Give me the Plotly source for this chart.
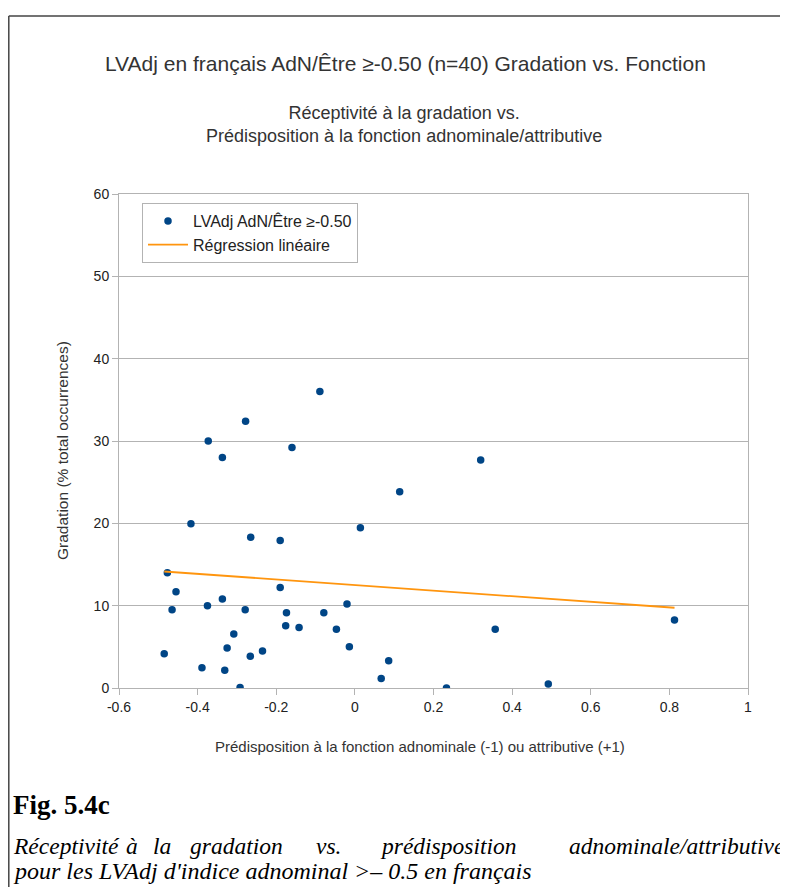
import plotly.graph_objects as go

# ---- data ----
fonction = [-0.089, -0.278, -0.373, -0.337, -0.160, 0.114, -0.417, 0.014, -0.265, -0.190,
            -0.477, -0.455, -0.190, -0.337, -0.375, -0.465, -0.279, -0.174, -0.079, -0.020,
            -0.176, -0.142, -0.047, -0.308, -0.325, -0.014, -0.235, -0.266, -0.485, 0.086,
            -0.389, -0.331, 0.067, -0.292, 0.233, 0.320, 0.357, 0.492, 0.813]
gradation = [36.0, 32.4, 30.0, 28.0, 29.2, 23.85, 19.95, 19.45, 18.3, 17.9,
             14.0, 11.7, 12.2, 10.8, 10.0, 9.5, 9.5, 9.15, 9.15, 10.2,
             7.55, 7.35, 7.15, 6.55, 4.85, 5.0, 4.5, 3.85, 4.15, 3.3,
             2.45, 2.15, 1.15, 0.05, 0.0, 27.7, 7.15, 0.5, 8.25]
reg_x = [-0.485, 0.813]
reg_y = [14.15, 9.75]

x_ticks = [-0.6, -0.4, -0.2, 0, 0.2, 0.4, 0.6, 0.8, 1]
x_tick_labels = ["-0.6", "-0.4", "-0.2", "0", "0.2", "0.4", "0.6", "0.8", "1"]
y_ticks = [0, 10, 20, 30, 40, 50, 60]

title = "LVAdj en français AdN/Être ≥-0.50 (n=40) Gradation vs. Fonction"
subtitle = "Réceptivité à la gradation vs.<br>Prédisposition à la fonction adnominale/attributive"
x_title = "Prédisposition à la fonction adnominale (-1) ou attributive (+1)"
y_title = "Gradation (% total occurrences)"
series_name = "LVAdj AdN/Être ≥-0.50"
reg_name = "Régression linéaire"
fig_label = "Fig. 5.4c"
caption_line1_words = ["Réceptivité", "à", "la", "gradation", "vs.", "prédisposition",
                       "adnominale/attributive"]
caption_line1_x = [12, 125, 152, 189, 315, 379, 568]
caption_line2 = "pour les LVAdj d'indice adnominal >– 0.5 en français"

# ---- layout geometry (page pixels; the page body adds an 8px offset) ----
OFF = 8
W, H = 788, 887
L, R, T, B = 119, 748, 194, 688
PW, PH = R - L, B - T


def px(x):
    return (x - L) / PW


def py(y):
    return (B - y) / PH


SANS = "Liberation Sans, Arial, sans-serif"
SERIF = "Liberation Serif, Times New Roman, serif"
GRID = "#b3b3b3"

fig = go.Figure()
fig.add_trace(go.Scatter(
    x=fonction, y=gradation, mode="markers", name=series_name,
    marker=dict(color="#004586", size=7.5, symbol="circle"),
    legendgroup="a",
))
fig.add_trace(go.Scatter(
    x=reg_x, y=reg_y, mode="lines", name=reg_name,
    line=dict(color="#ff950e", width=1.8),
    legendgroup="b",
))

CAP = 23.5
annotations = [
    dict(text=title, x=px(405), y=py(63), font=dict(size=21, color="#333333", family=SANS)),
    dict(text=subtitle, x=px(404), y=py(125), font=dict(size=18, color="#333333", family=SANS)),
    dict(text=x_title, x=px(420), y=py(746), font=dict(size=15, color="#333333", family=SANS)),
    dict(text=y_title, x=px(62), y=py(451), textangle=-90,
         font=dict(size=15.5, color="#333333", family=SANS)),
    dict(text="<b>" + fig_label + "</b>", x=px(12), y=py(805), xanchor="left",
         font=dict(size=27, color="#000000", family=SERIF)),
    dict(text="<i>" + caption_line2 + "</i>", x=px(12), y=py(871), xanchor="left",
         font=dict(size=CAP + 0.5, color="#000000", family=SERIF)),
]
for word, wx in zip(caption_line1_words, caption_line1_x):
    annotations.append(dict(text="<i>" + word + "</i>", x=px(wx), y=py(846), xanchor="left",
                            font=dict(size=CAP, color="#000000", family=SERIF)))
for a in annotations:
    a.update(xref="paper", yref="paper", showarrow=False, borderpad=0)
    a.setdefault("xanchor", "center")
    a.setdefault("yanchor", "middle")

shapes = [
    dict(type="line", xref="paper", yref="paper", x0=px(8.8), x1=px(800), y0=py(16), y1=py(16),
         line=dict(color="#444444", width=1.5)),
    dict(type="line", xref="paper", yref="paper", x0=px(8.8), x1=px(8.8), y0=py(16), y1=py(900),
         line=dict(color="#444444", width=1.5)),
]

fig.update_layout(
    width=W - OFF, height=H - OFF,
    margin=dict(l=L - OFF, r=W - R, t=T - OFF, b=H - B, autoexpand=False),
    paper_bgcolor="white", plot_bgcolor="white",
    font=dict(family=SANS, color="#222222"),
    showlegend=True,
    legend=dict(
        x=px(142), y=py(203), xanchor="left", yanchor="top",
        bordercolor=GRID, borderwidth=1, bgcolor="white",
        font=dict(size=16, color="#222222", family=SANS),
        itemwidth=40, tracegroupgap=0, traceorder="grouped",
    ),
    annotations=annotations,
    shapes=shapes,
    xaxis=dict(
        range=[-0.6, 1], tickvals=x_ticks, ticktext=x_tick_labels,
        showgrid=False, zeroline=False, showline=True, linecolor=GRID, linewidth=1,
        mirror=True, ticks="outside", ticklen=6, tickcolor=GRID,
        tickfont=dict(size=14, color="#222222", family=SANS),
    ),
    yaxis=dict(
        range=[0, 60], tickvals=y_ticks,
        showgrid=True, gridcolor=GRID, gridwidth=1, zeroline=False,
        showline=True, linecolor=GRID, linewidth=1, mirror=True,
        ticks="outside", ticklen=6, tickcolor=GRID,
        tickfont=dict(size=14, color="#222222", family=SANS),
    ),
)

fig.write_html("out.html")
